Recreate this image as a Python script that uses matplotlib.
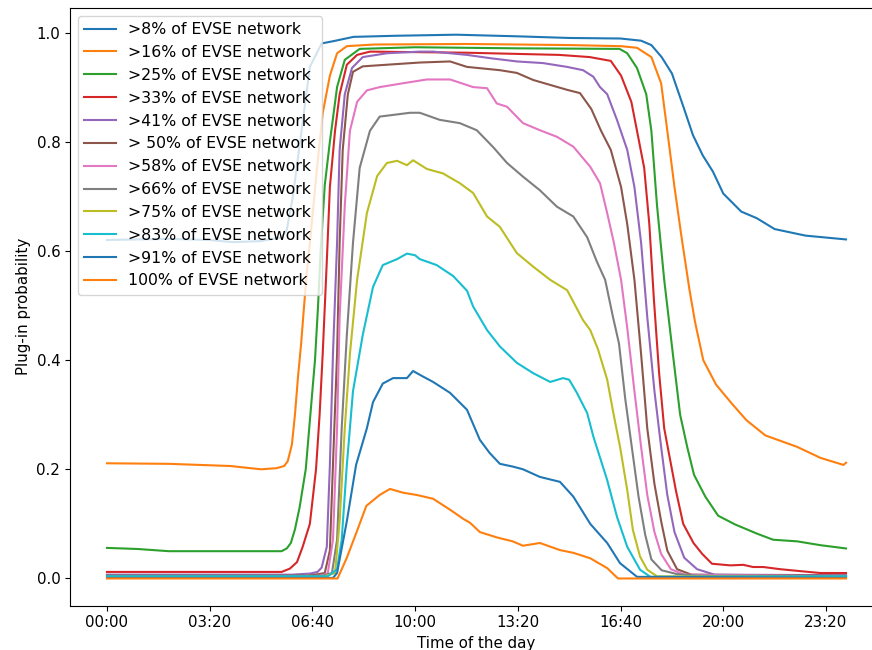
import numpy as np
import matplotlib
matplotlib.use("Agg")
import matplotlib.pyplot as plt

# time of day in minutes
t_p8 = [0, 120, 200, 245, 300, 340, 350, 362, 376, 395, 418, 440, 480, 560, 680, 800, 900, 1000,
        1040, 1060, 1080, 1100, 1122, 1141, 1160, 1180, 1200, 1235, 1265, 1300, 1360, 1439]
v_p8 = [0.620, 0.622, 0.620, 0.616, 0.618, 0.625, 0.638, 0.700, 0.800, 0.937, 0.980, 0.984, 0.992,
        0.994, 0.996, 0.993, 0.990, 0.989, 0.985, 0.977, 0.955, 0.925, 0.865, 0.812, 0.775, 0.745,
        0.705, 0.672, 0.660, 0.640, 0.628, 0.621]

t_p16 = [0, 120, 240, 300, 330, 345, 352, 360, 366, 372, 378, 383, 389, 395, 409, 420, 434, 448, 467,
         520, 700, 900, 1000, 1032, 1060, 1079, 1091, 1105, 1118, 1134, 1145, 1161, 1186, 1217, 1245,
         1282, 1344, 1389, 1434, 1439]
v_p16 = [0.211, 0.210, 0.206, 0.200, 0.202, 0.206, 0.215, 0.245, 0.300, 0.370, 0.430, 0.490, 0.560,
         0.614, 0.752, 0.852, 0.921, 0.962, 0.975, 0.978, 0.979, 0.977, 0.975, 0.972, 0.955, 0.907,
         0.820, 0.717, 0.630, 0.530, 0.470, 0.400, 0.355, 0.320, 0.290, 0.262, 0.241, 0.221, 0.208,
         0.212]

t_p25 = [0, 60, 120, 340, 350, 358, 366, 375, 387, 396, 405, 411, 416, 424, 434, 448, 463, 492, 600,
         800, 998, 1013, 1032, 1050, 1060, 1071, 1085, 1102, 1116, 1130, 1143, 1165, 1190, 1223, 1266,
         1297, 1344, 1389, 1439]
v_p25 = [0.056, 0.054, 0.050, 0.050, 0.055, 0.065, 0.090, 0.130, 0.200, 0.300, 0.400, 0.500, 0.600,
         0.720, 0.800, 0.900, 0.950, 0.970, 0.973, 0.971, 0.970, 0.962, 0.935, 0.887, 0.820, 0.683,
         0.547, 0.410, 0.300, 0.240, 0.190, 0.150, 0.115, 0.099, 0.082, 0.071, 0.068, 0.061, 0.055]

t_p33 = [0, 340, 356, 370, 381, 395, 407, 414, 420, 428, 434, 444, 453, 467, 487, 512, 700, 880, 940,
         981, 1001, 1021, 1032, 1046, 1056, 1065, 1075, 1085, 1108, 1122, 1142, 1159, 1178, 1214, 1239,
         1258, 1278, 1311, 1344, 1389, 1439]
v_p33 = [0.012, 0.012, 0.018, 0.030, 0.058, 0.100, 0.200, 0.300, 0.411, 0.581, 0.717, 0.820, 0.887,
         0.941, 0.959, 0.965, 0.963, 0.959, 0.955, 0.948, 0.921, 0.873, 0.820, 0.752, 0.649, 0.510,
         0.377, 0.275, 0.160, 0.100, 0.065, 0.045, 0.027, 0.024, 0.025, 0.021, 0.021, 0.017, 0.014,
         0.010, 0.010]

t_p41 = [0, 360, 395, 410, 418, 428, 434, 440, 448, 453, 463, 477, 498, 545, 609, 635, 701, 746, 798,
         849, 896, 927, 947, 960, 974, 993, 1013, 1027, 1040, 1052, 1066, 1079, 1091, 1105, 1124, 1149,
         1183, 1439]
v_p41 = [0.007, 0.007, 0.009, 0.012, 0.020, 0.058, 0.208, 0.411, 0.615, 0.785, 0.887, 0.935, 0.955,
         0.962, 0.965, 0.965, 0.959, 0.953, 0.947, 0.944, 0.937, 0.931, 0.919, 0.900, 0.887, 0.840,
         0.785, 0.717, 0.615, 0.479, 0.343, 0.241, 0.153, 0.085, 0.038, 0.017, 0.007, 0.006]

t_p50 = [0, 390, 412, 424, 434, 440, 448, 453, 459, 469, 479, 498, 545, 609, 668, 701, 765, 798, 830,
         863, 896, 921, 943, 962, 981, 1001, 1013, 1027, 1040, 1052, 1066, 1079, 1091, 1110, 1138, 1439]
v_p50 = [0.005, 0.005, 0.008, 0.010, 0.051, 0.208, 0.411, 0.615, 0.785, 0.887, 0.928, 0.938, 0.941,
         0.945, 0.947, 0.937, 0.931, 0.926, 0.913, 0.904, 0.895, 0.889, 0.860, 0.820, 0.785, 0.717,
         0.649, 0.547, 0.411, 0.275, 0.173, 0.105, 0.051, 0.017, 0.007, 0.005]

t_p58 = [0, 400, 420, 430, 440, 448, 453, 463, 473, 487, 506, 531, 576, 623, 668, 713, 740, 759, 779,
         810, 843, 876, 908, 941, 960, 974, 987, 1001, 1013, 1027, 1040, 1052, 1066, 1079, 1098, 1124,
         1439]
v_p58 = [0.004, 0.004, 0.006, 0.010, 0.071, 0.275, 0.479, 0.683, 0.820, 0.873, 0.894, 0.900, 0.907,
         0.914, 0.914, 0.900, 0.898, 0.870, 0.864, 0.834, 0.821, 0.809, 0.791, 0.754, 0.724, 0.669,
         0.615, 0.547, 0.459, 0.343, 0.241, 0.153, 0.085, 0.045, 0.017, 0.007, 0.004]

t_p66 = [0, 420, 438, 448, 457, 467, 479, 492, 512, 531, 565, 590, 609, 648, 687, 720, 752, 779, 810,
         843, 876, 908, 935, 954, 970, 985, 997, 1009, 1022, 1035, 1048, 1060, 1080, 1110, 1150, 1439]
v_p66 = [0.005, 0.005, 0.010, 0.071, 0.275, 0.446, 0.615, 0.752, 0.820, 0.846, 0.850, 0.853, 0.853,
         0.840, 0.834, 0.821, 0.790, 0.761, 0.736, 0.711, 0.681, 0.663, 0.625, 0.580, 0.547, 0.480,
         0.430, 0.330, 0.240, 0.150, 0.080, 0.035, 0.015, 0.008, 0.005, 0.004]

t_p75 = [0, 420, 444, 453, 463, 473, 487, 506, 526, 545, 565, 584, 596, 623, 654, 687, 713, 740, 765,
         798, 830, 863, 896, 927, 941, 956, 974, 986, 999, 1013, 1024, 1038, 1052, 1071, 1439]
v_p75 = [0.003, 0.003, 0.010, 0.105, 0.275, 0.411, 0.547, 0.669, 0.737, 0.761, 0.765, 0.757, 0.766,
         0.750, 0.742, 0.724, 0.706, 0.663, 0.644, 0.596, 0.571, 0.547, 0.528, 0.473, 0.455, 0.420,
         0.364, 0.303, 0.241, 0.162, 0.089, 0.040, 0.016, 0.004, 0.003]

t_p83 = [0, 430, 448, 457, 467, 479, 498, 518, 537, 565, 584, 600, 609, 642, 674, 701, 713, 740, 765,
         798, 830, 863, 888, 900, 915, 935, 947, 974, 993, 1013, 1038, 1058, 1439]
v_p83 = [0.004, 0.004, 0.017, 0.071, 0.208, 0.343, 0.446, 0.534, 0.574, 0.585, 0.595, 0.592, 0.585,
         0.574, 0.554, 0.527, 0.498, 0.455, 0.425, 0.395, 0.376, 0.360, 0.367, 0.364, 0.340, 0.303,
         0.260, 0.180, 0.113, 0.058, 0.016, 0.003, 0.004]

t_p91 = [0, 440, 448, 467, 485, 506, 518, 537, 557, 584, 596, 615, 635, 668, 701, 726, 745, 765, 790,
         810, 843, 882, 908, 941, 974, 999, 1032, 1439]
v_p91 = [0.001, 0.001, 0.010, 0.105, 0.208, 0.275, 0.323, 0.357, 0.367, 0.367, 0.380, 0.370, 0.360,
         0.340, 0.309, 0.254, 0.230, 0.210, 0.205, 0.200, 0.186, 0.177, 0.150, 0.100, 0.065, 0.028,
         0.003, 0.001]

t_p100 = [0, 449, 467, 486, 505, 531, 551, 577, 603, 635, 668, 694, 707, 726, 760, 790, 810, 843, 882,
          908, 941, 974, 995, 1439]
v_p100 = [0.000, 0.000, 0.038, 0.085, 0.133, 0.153, 0.164, 0.157, 0.153, 0.146, 0.126, 0.109, 0.102,
          0.085, 0.075, 0.068, 0.060, 0.065, 0.052, 0.047, 0.037, 0.019, 0.000, 0.000]

series = [
    (t_p8, v_p8, ">8% of EVSE network"),
    (t_p16, v_p16, ">16% of EVSE network"),
    (t_p25, v_p25, ">25% of EVSE network"),
    (t_p33, v_p33, ">33% of EVSE network"),
    (t_p41, v_p41, ">41% of EVSE network"),
    (t_p50, v_p50, "> 50% of EVSE network"),
    (t_p58, v_p58, ">58% of EVSE network"),
    (t_p66, v_p66, ">66% of EVSE network"),
    (t_p75, v_p75, ">75% of EVSE network"),
    (t_p83, v_p83, ">83% of EVSE network"),
    (t_p91, v_p91, ">91% of EVSE network"),
    (t_p100, v_p100, "100% of EVSE network"),
]

tick_minutes = [0, 200, 400, 600, 800, 1000, 1200, 1400]
tick_labels = ["%02d:%02d" % (m // 60, m % 60) for m in tick_minutes]

plt.rcParams["font.size"] = 10.8

fig = plt.figure(figsize=(8.72, 6.5), dpi=100)
ax = fig.add_axes([0.0803, 0.0682, 0.9323, 0.9195])

for t, v, lab in series:
    ax.plot(t, v, lw=1.5, label=lab)

ax.set_xlim(-72, 1511)
ax.set_ylim(-0.0498, 1.0449)
ax.set_xticks(tick_minutes)
ax.set_xticklabels(tick_labels)
ax.set_xlabel("Time of the day")
ax.set_ylabel("Plug-in probability")
ax.legend(loc="upper left", fontsize=11.3)

fig.savefig("out.png", dpi=100)
